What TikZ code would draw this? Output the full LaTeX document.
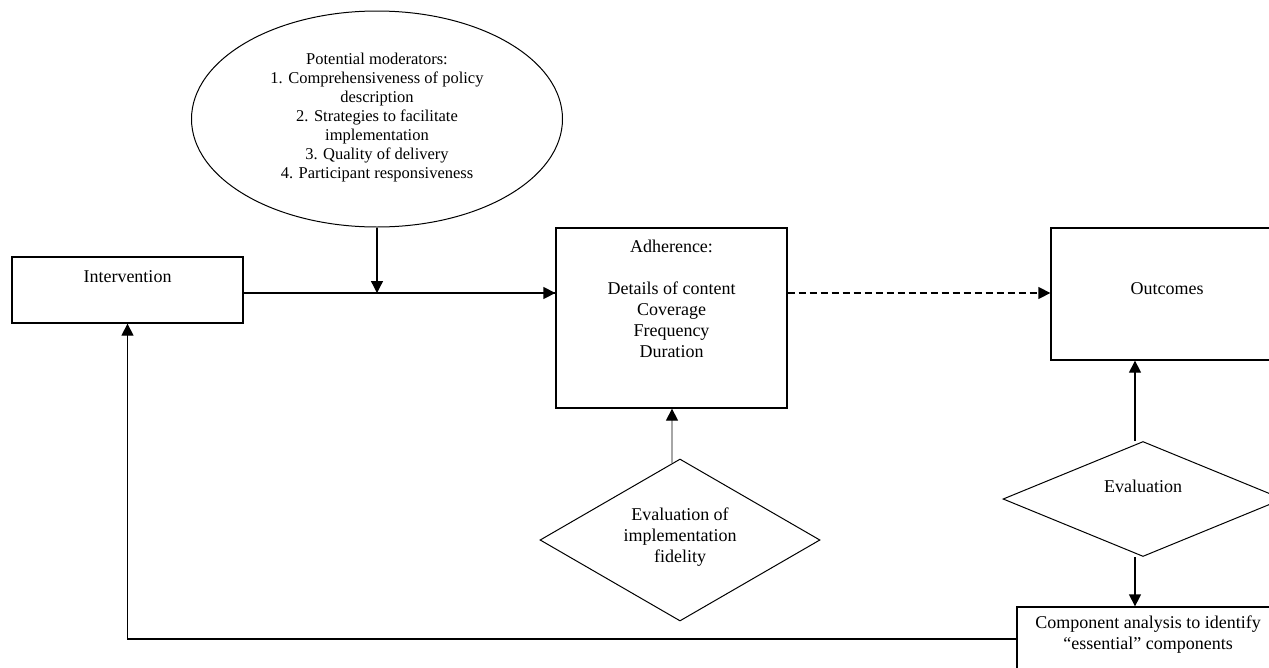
\documentclass[tikz,border=0pt]{standalone}
\usepackage{fontspec}
\setmainfont{Liberation Serif}
\usetikzlibrary{shapes.geometric,arrows.meta,calc}

\begin{document}
\begin{tikzpicture}[x=1pt,y=-1pt,
  tip/.style={-{Triangle[length=12pt,width=12pt]}},
  box/.style={draw, rectangle, line width=1.3pt, inner sep=0pt},
  dia/.style={draw, diamond, line width=1pt, inner sep=0pt},
  txt/.style={align=center, inner sep=0pt, font=\fontsize{18}{21}\selectfont},
  small/.style={align=center, inner sep=0pt, font=\fontsize{16.5}{19}\selectfont},
  link/.style={line width=1.3pt, tip},
]
\useasboundingbox (0,0) rectangle (1269,667);
\clip (0,0) rectangle (1269,667);

% moderators
\node[draw, ellipse, line width=1pt, minimum width=371pt, minimum height=216pt, inner sep=0pt] (moder) at (377,119) {};
\node[small] (modtxt) at (377,118) {Potential moderators:\\1. Comprehensiveness of policy\\description\\2. Strategies to facilitate\\implementation\\3. Quality of delivery\\4. Participant responsiveness};

% main boxes
\node[box, minimum width=231pt, minimum height=66pt] (interv) at (127.5,290) {};
\node[txt] (intervtxt) at ($(interv.north)+(0,20)$) {Intervention};

\node[box, minimum width=231pt, minimum height=180pt] (adher) at (671.5,318) {};
\node[txt] (adhertxt) at (671.5,299) {Adherence:\\[21pt]Details of content\\Coverage\\Frequency\\Duration};

\node[box, minimum width=232pt, minimum height=132pt] (outc) at (1167,294) {};
\node[txt] (outctxt) at (1167,289) {Outcomes};

% evaluation steps
\node[dia, minimum width=280pt, minimum height=162pt] (fid) at (680,540) {};
\node[txt] (fidtxt) at (680,537) {Evaluation of\\implementation\\fidelity};

\node[dia, minimum width=280pt, minimum height=115pt] (eval) at (1143,499) {};
\node[txt] (evaltxt) at (1143,486) {Evaluation};

\node[box, minimum width=262pt, minimum height=84pt] (comp) at (1148,649) {};
\node[txt] (comptxt) at (1148,635) {Component analysis to identify\\``essential'' components};

% connectors
\coordinate (mainrow) at (0,293);
\coordinate (fbrow) at (0,639);
\coordinate (fidtop) at ($(fid.north)+(-8,4)$);
\coordinate (evaltop) at ($(eval.north)+(-8,0)$);
\coordinate (evalbot) at ($(eval.south)+(-8,0)$);

\draw[line width=1.3pt] (interv.east |- mainrow) -- (adher.west |- mainrow);
\draw[link] (adher.west |- mainrow) ++(-14,0) -- (adher.west |- mainrow);
\draw[link] (moder.south) -- (moder.south |- mainrow);
\draw[link, dash pattern=on 7pt off 4pt] (adher.east |- mainrow) -- (outc.west |- mainrow);
\draw[line width=1.3pt, gray!70, -{Triangle[length=12pt,width=12pt,black]}] (fidtop) -- (fidtop |- adher.south);
\draw[link] (evaltop) -- (evaltop |- outc.south);
\draw[link] (evalbot) -- (evalbot |- comp.north);
\draw[link] (comp.west |- fbrow) -| (interv.south);
\end{tikzpicture}
\end{document}
